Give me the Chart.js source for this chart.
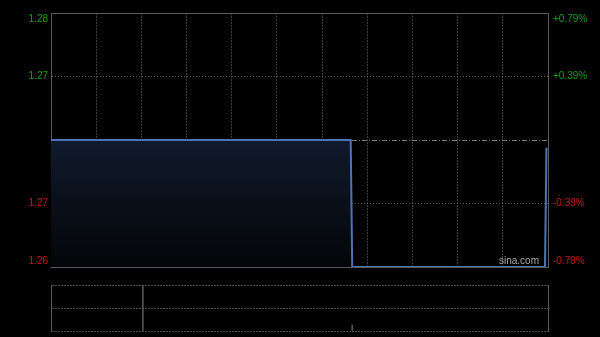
<!DOCTYPE html>
<html>
<head>
<meta charset="utf-8">
<script src="https://cdn.jsdelivr.net/npm/chart.js@4.4.0/dist/chart.umd.min.js"></script>
<style>
  html, body { margin: 0; padding: 0; background: #000; }
  #wrap { position: relative; width: 600px; height: 337px; background: #000; overflow: hidden; }
  #price { position: absolute; left: 0; top: 0; }
  #vol { position: absolute; left: 0; top: 280px; }
  #logo { position: absolute; left: 499px; top: 256px; font: 10px Arial, "Liberation Sans", sans-serif; line-height: 10px; color: #a8a8a8; }
</style>
</head>
<body>
<div id="wrap">
  <canvas id="price" width="600" height="280"></canvas>
  <canvas id="vol" width="600" height="57"></canvas>
  <div id="logo">sina.com</div>
</div>
<script>
// minutes since open (HK session, 330 min), intraday price
const minutes = [0, 199, 200, 328, 329]
const prices = [1.27, 1.27, 1.26, 1.26, 1.2694]
const prevClose = 1.27

const priceTicks = [1.26, 1.265, 1.27, 1.275, 1.28]
const priceLabels = ['1.26', '1.27', '', '1.27', '1.28']
const pctLabels = ['-0.79%', '-0.39%', '', '+0.39%', '+0.79%']
const timeTicks = [0, 30, 60, 90, 120, 150, 180, 210, 240, 270, 300, 330]

const volMinutes = [61, 200]
const volumes = [46000, 6000]
const volTicks = [0, 23000, 46000]

const UP = '#0ea20e'
const DOWN = '#cc1414'
const FRAME = '#5a5a5a'
const FONT = {family: 'Arial, "Liberation Sans", sans-serif', size: 10}

// push the top label down and the bottom label up, like the original
const edgeLabel = (text, index, count) => {
  if (index === 0) return [text, '']
  if (index === count - 1) return ['', text]
  return text
}

const tickColor = ctx => {
  if (!ctx.tick) return UP
  return ctx.tick.value >= prevClose ? UP : DOWN
}

const priceGridColor = ctx => {
  if (!ctx.tick) return FRAME
  if (ctx.index === 0 || ctx.index === priceTicks.length - 1) return FRAME
  if (Math.abs(ctx.tick.value - prevClose) < 1e-9) return '#7a7a7a'
  return '#5c5c5c'
}

const priceGridDash = ctx => {
  if (!ctx.tick) return []
  if (ctx.index === 0 || ctx.index === priceTicks.length - 1) return []
  if (Math.abs(ctx.tick.value - prevClose) < 1e-9) return [5, 2, 1, 2]
  return [1, 2]
}

const fillGradient = ctx => {
  const chart = ctx.chart
  const area = chart.chartArea
  if (!area) return 'rgba(0,0,0,0)'
  const top = chart.scales.y.getPixelForValue(prevClose)
  const g = chart.ctx.createLinearGradient(0, top, 0, area.bottom)
  g.addColorStop(0, '#101a2c')
  g.addColorStop(1, '#040508')
  return g
}

// axis widths fixed, no extra room for label overflow
const fixY = w => s => {
  s.width = w
  s.paddingTop = 0
  s.paddingBottom = 0
}

new Chart(document.getElementById('price'), {
  type: 'line',
  data: {
    datasets: [{
      data: minutes.map((m, i) => ({x: m, y: prices[i]})),
      borderColor: '#4b74b8',
      borderWidth: 2,
      backgroundColor: fillGradient,
      fill: 'start',
      pointRadius: 0,
      tension: 0
    }]
  },
  options: {
    responsive: false,
    animation: false,
    layout: {padding: {top: 13, bottom: 13, left: 0, right: 0}},
    plugins: {legend: {display: false}, tooltip: {enabled: false}},
    scales: {
      x: {
        type: 'linear',
        min: 0,
        max: 330,
        afterBuildTicks: s => { s.ticks = timeTicks.map(v => ({value: v})) },
        afterFit: s => { s.height = 0; s.paddingLeft = 0; s.paddingRight = 0 },
        ticks: {display: false},
        grid: {
          drawTicks: false,
          color: ctx => (ctx.index === 0 || ctx.index === timeTicks.length - 1) ? 'rgba(0,0,0,0)' : '#3e3e3e'
        },
        border: {display: false, dash: [2, 1]}
      },
      y: {
        position: 'left',
        min: 1.26,
        max: 1.28,
        afterBuildTicks: s => { s.ticks = priceTicks.map(v => ({value: v})) },
        afterFit: fixY(51),
        ticks: {
          font: FONT,
          color: tickColor,
          padding: 3,
          callback: (v, i) => edgeLabel(priceLabels[i], i, priceLabels.length)
        },
        grid: {drawTicks: false, color: priceGridColor},
        border: {display: true, color: FRAME, dash: priceGridDash}
      },
      y1: {
        position: 'right',
        min: 1.26,
        max: 1.28,
        afterBuildTicks: s => { s.ticks = priceTicks.map(v => ({value: v})) },
        afterFit: fixY(52),
        ticks: {
          font: FONT,
          color: tickColor,
          padding: 5,
          callback: (v, i) => edgeLabel(pctLabels[i], i, pctLabels.length)
        },
        grid: {display: false, drawTicks: false},
        border: {display: true, color: FRAME}
      }
    }
  }
})

new Chart(document.getElementById('vol'), {
  type: 'bar',
  data: {
    datasets: [{
      data: volMinutes.map((m, i) => ({x: m, y: volumes[i]})),
      backgroundColor: '#555555',
      borderWidth: 0,
      barThickness: 1
    }]
  },
  options: {
    responsive: false,
    animation: false,
    layout: {padding: {top: 5, bottom: 6, left: 0, right: 0}},
    plugins: {legend: {display: false}, tooltip: {enabled: false}},
    scales: {
      x: {
        type: 'linear',
        min: 0,
        max: 330,
        offset: false,
        afterFit: s => { s.height = 0; s.paddingLeft = 0; s.paddingRight = 0 },
        ticks: {display: false},
        grid: {display: false},
        border: {display: false}
      },
      y: {
        position: 'left',
        min: 0,
        max: 46000,
        afterBuildTicks: s => { s.ticks = volTicks.map(v => ({value: v})) },
        afterFit: fixY(51),
        ticks: {display: false},
        grid: {drawTicks: false, color: '#4e4e4e'},
        border: {display: true, color: FRAME, dash: [2, 1]}
      },
      y1: {
        position: 'right',
        min: 0,
        max: 46000,
        afterFit: fixY(52),
        ticks: {display: false},
        grid: {display: false, drawTicks: false},
        border: {display: true, color: FRAME}
      }
    }
  }
})
</script>
</body>
</html>
